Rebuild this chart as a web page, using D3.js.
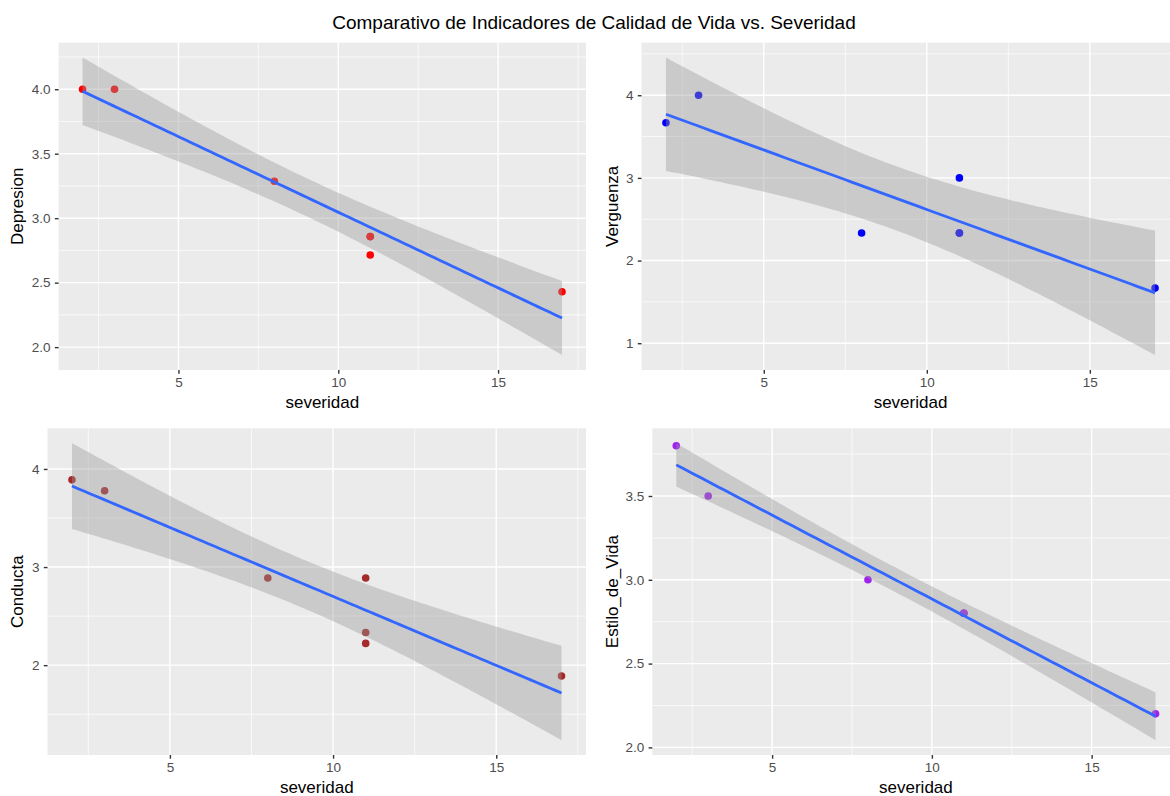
<!DOCTYPE html>
<html>
<head>
<meta charset="utf-8">
<script src="https://cdn.jsdelivr.net/npm/d3@7"></script>
<style>
  body { margin: 0; background: #ffffff; }
  text { font-family: "Liberation Sans", Arial, Helvetica, sans-serif; }
</style>
</head>
<body>
<svg id="chart" width="1170" height="796"></svg>
<script>
// Data (7 rows, three of them share severidad = 11)
const severidad    = [2, 3, 8, 11, 11, 11, 17];
const depresion    = [4.000, 4.000, 3.286, 2.857, 2.857, 2.714, 2.429];
const verguenza    = [3.667, 4.000, 2.333, 3.000, 2.333, 2.333, 1.667];
const conducta     = [3.889, 3.778, 2.889, 2.889, 2.333, 2.222, 1.889];
const estiloDeVida = [3.8, 3.5, 3.0, 2.8, 2.8, 2.8, 2.2];

// Tick labels
const xTicks = [5, 10, 15];
const depresionTicks = [2.0, 2.5, 3.0, 3.5, 4.0];
const verguenzaTicks = [1, 2, 3, 4];
const conductaTicks = [2, 3, 4];
const estiloTicks = [2.0, 2.5, 3.0, 3.5];

const TITLE = 'Comparativo de Indicadores de Calidad de Vida vs. Severidad';
const X_LABEL = 'severidad';
// qt(0.975, df = n - 2) for n = 7
const T_CRIT = 2.570582;

// Layout of each panel (plot area in px)
const panels = [
  { name: 'Depresion',      values: depresion,    ticks: depresionTicks, color: '#FF0000',
    box: { left: 58.6, right: 586, top: 42.7, bottom: 370 }, titleX: 23.4 },
  { name: 'Verguenza',      values: verguenza,    ticks: verguenzaTicks, color: '#0000FF',
    box: { left: 641.5, right: 1179.5, top: 42.7, bottom: 370 }, titleX: 617.7 },
  { name: 'Conducta',       values: conducta,     ticks: conductaTicks,  color: '#A52A2A',
    box: { left: 47.5, right: 586, top: 428.3, bottom: 755 }, titleX: 23.4 },
  { name: 'Estilo_de_Vida', values: estiloDeVida, ticks: estiloTicks,    color: '#A020F0',
    box: { left: 652.3, right: 1179.5, top: 428.3, bottom: 755 }, titleX: 617.7 }
];

const svg = d3.select('#chart');

// Title
svg.append('text')
  .text(TITLE)
  .attr('x', 594)
  .attr('y', 29)
  .attr('text-anchor', 'middle')
  .attr('font-size', 19)
  .attr('fill', '#000');

// Ordinary least squares, like geom_smooth(method = 'lm')
function fitLm(xs, ys) {
  const n = xs.length;
  const mx = d3.mean(xs), my = d3.mean(ys);
  const sxx = d3.sum(xs, x => (x - mx) ** 2);
  const sxy = d3.sum(xs, (x, i) => (x - mx) * (ys[i] - my));
  const slope = sxy / sxx;
  const intercept = my - slope * mx;
  const sse = d3.sum(xs, (x, i) => (ys[i] - intercept - slope * x) ** 2);
  const s = Math.sqrt(sse / (n - 2));
  return { n, mx, sxx, slope, intercept, s };
}

// Minor breaks are the midpoints between major breaks (ggplot style)
function minorBreaks(ticks, domain) {
  const step = ticks[1] - ticks[0];
  const all = [ticks[0] - step, ...ticks, ticks[ticks.length - 1] + step];
  const out = [];
  for (let i = 0; i < all.length - 1; i++) out.push((all[i] + all[i + 1]) / 2);
  return out.filter(v => v >= domain[0] && v <= domain[1]);
}

function expand(ext) {
  const pad = (ext[1] - ext[0]) * 0.05;
  return [ext[0] - pad, ext[1] + pad];
}

panels.forEach(p => {
  const b = p.box;
  const g = svg.append('g');

  // Fit + confidence band over 80 points
  const fit = fitLm(severidad, p.values);
  const xExt = d3.extent(severidad);
  const band = d3.range(80).map(i => {
    const x = xExt[0] + (xExt[1] - xExt[0]) * i / 79;
    const y = fit.intercept + fit.slope * x;
    const se = fit.s * Math.sqrt(1 / fit.n + (x - fit.mx) ** 2 / fit.sxx);
    return { x, y, lo: y - T_CRIT * se, hi: y + T_CRIT * se };
  });

  // Scales
  const xScale = d3.scaleLinear()
    .domain(expand(xExt))
    .range([b.left, b.right]);
  const yExt = d3.extent([...p.values, ...band.map(d => d.lo), ...band.map(d => d.hi)]);
  const yScale = d3.scaleLinear()
    .domain(expand(yExt))
    .range([b.bottom, b.top]);

  // Panel background
  g.append('rect')
    .attr('x', b.left).attr('y', b.top)
    .attr('width', b.right - b.left).attr('height', b.bottom - b.top)
    .attr('fill', '#EBEBEB');

  // Grid lines
  const xMinor = minorBreaks(xTicks, xScale.domain());
  const yMinor = minorBreaks(p.ticks, yScale.domain());
  g.selectAll('.xminor').data(xMinor).join('line')
    .attr('x1', d => xScale(d)).attr('x2', d => xScale(d))
    .attr('y1', b.top).attr('y2', b.bottom)
    .attr('stroke', '#fff').attr('stroke-width', 0.7);
  g.selectAll('.yminor').data(yMinor).join('line')
    .attr('y1', d => yScale(d)).attr('y2', d => yScale(d))
    .attr('x1', b.left).attr('x2', b.right)
    .attr('stroke', '#fff').attr('stroke-width', 0.7);
  g.selectAll('.xmajor').data(xTicks).join('line')
    .attr('x1', d => xScale(d)).attr('x2', d => xScale(d))
    .attr('y1', b.top).attr('y2', b.bottom)
    .attr('stroke', '#fff').attr('stroke-width', 1.4);
  g.selectAll('.ymajor').data(p.ticks).join('line')
    .attr('y1', d => yScale(d)).attr('y2', d => yScale(d))
    .attr('x1', b.left).attr('x2', b.right)
    .attr('stroke', '#fff').attr('stroke-width', 1.4);

  // Points (drawn before the smooth, so the band covers them)
  g.selectAll('.pt').data(severidad.map((x, i) => ({ x, y: p.values[i] }))).join('circle')
    .attr('cx', d => xScale(d.x))
    .attr('cy', d => yScale(d.y))
    .attr('r', 3.8)
    .attr('fill', p.color);

  // Confidence band
  g.append('path')
    .datum(band)
    .attr('d', d3.area().x(d => xScale(d.x)).y0(d => yScale(d.lo)).y1(d => yScale(d.hi)))
    .attr('fill', '#999999')
    .attr('fill-opacity', 0.4);

  // Fitted line
  g.append('path')
    .datum(band)
    .attr('d', d3.line().x(d => xScale(d.x)).y(d => yScale(d.y)))
    .attr('fill', 'none')
    .attr('stroke', '#3366FF')
    .attr('stroke-width', 2.8);

  // Axes
  const allInt = p.ticks.every(t => Number.isInteger(t));
  const xAxis = d3.axisBottom(xScale).tickValues(xTicks)
    .tickSize(3.7).tickPadding(4.2).tickFormat(d3.format('d'));
  const yAxis = d3.axisLeft(yScale).tickValues(p.ticks)
    .tickSize(3.7).tickPadding(4.3).tickFormat(d3.format(allInt ? 'd' : '.1f'));

  const gx = g.append('g').attr('transform', `translate(0, ${b.bottom})`).call(xAxis);
  const gy = g.append('g').attr('transform', `translate(${b.left}, 0)`).call(yAxis);
  [gx, gy].forEach(ax => {
    ax.attr('font-size', null).attr('font-family', null);
    ax.select('.domain').remove();
    ax.selectAll('.tick line').attr('stroke', '#333333').attr('stroke-width', 1.4);
    ax.selectAll('.tick text')
      .attr('fill', '#4D4D4D')
      .style('font-size', '13.5px');
  });

  // Axis titles
  g.append('text')
    .text(X_LABEL)
    .attr('x', (b.left + b.right) / 2)
    .attr('y', b.bottom + 37.5)
    .attr('text-anchor', 'middle')
    .attr('font-size', 17)
    .attr('fill', '#000');

  g.append('text')
    .text(p.name)
    .attr('transform', `translate(${p.titleX}, ${(b.top + b.bottom) / 2}) rotate(-90)`)
    .attr('text-anchor', 'middle')
    .attr('font-size', 17)
    .attr('fill', '#000');
});
</script>
</body>
</html>
